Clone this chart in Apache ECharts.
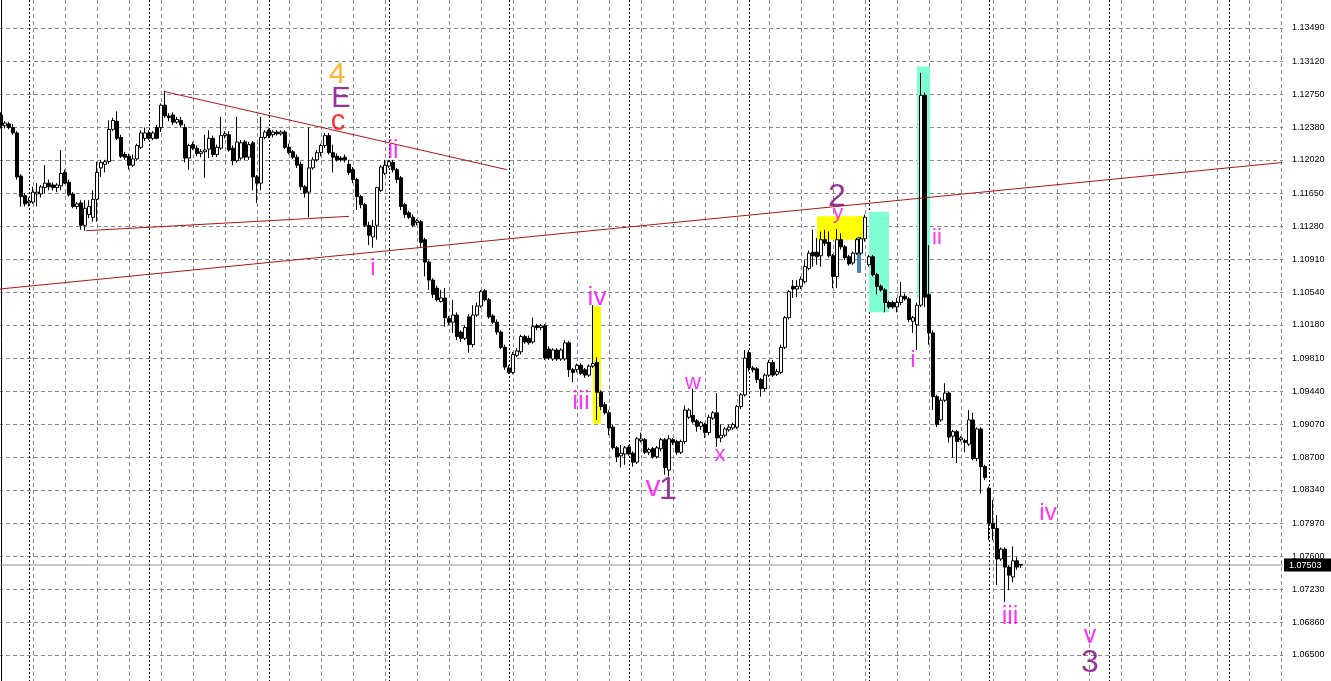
<!DOCTYPE html>
<html>
<head>
<meta charset="utf-8">
<script src="https://cdn.jsdelivr.net/npm/echarts@6.0.0/dist/echarts.min.js"></script>
<style>
html,body{margin:0;padding:0;background:#fff;}
#chart{width:1331px;height:681px;}
</style>
</head>
<body>
<div id="chart"></div>
<script>
// ---- H4 candles (bar index 0..255), prices ----
const opens = [
1.1252,1.1240,1.1242,1.1238,1.1232,1.1184,1.1162,1.1154,1.1155,1.1164,
1.1164,1.1171,1.1176,1.1174,1.1171,1.1173,1.1188,1.1177,1.1164,1.1150,
1.1154,1.1129,1.1141,1.1138,1.1158,1.1193,1.1197,1.1200,1.1236,1.1245,
1.1227,1.1208,1.1206,1.1196,1.1203,1.1216,1.1226,1.1232,1.1226,1.1238,
1.1238,1.1263,1.1251,1.1252,1.1244,1.1246,1.1238,1.1204,1.1219,1.1215,
1.1209,1.1211,1.1214,1.1226,1.1208,1.1215,1.1229,1.1230,1.1215,1.1201,
1.1204,1.1222,1.1205,1.1221,1.1183,1.1176,1.1227,1.1235,1.1230,1.1233,
1.1231,1.1233,1.1216,1.1211,1.1205,1.1197,1.1172,1.1166,1.1193,1.1202,
1.1210,1.1218,1.1229,1.1210,1.1206,1.1204,1.1205,1.1197,1.1191,1.1180,
1.1161,1.1152,1.1129,1.1116,1.1129,1.1168,1.1187,1.1195,1.1199,1.1191,
1.1182,1.1152,1.1143,1.1138,1.1132,1.1133,1.1113,1.1088,1.1068,1.1059,
1.1044,1.1048,1.1025,1.1021,1.1029,1.1010,1.1003,1.1027,1.0996,1.1029,
1.1039,1.1056,1.1046,1.1028,1.1021,1.1010,1.0993,1.0970,1.0965,1.0984,
1.0988,1.1005,1.1003,1.0999,1.1017,1.1015,1.1017,1.0991,1.0980,1.0990,
1.0980,1.0980,1.0998,1.0968,1.0968,1.0973,1.0968,1.0962,1.0972,1.0976,
1.0943,1.0929,1.0920,1.0904,1.0881,1.0872,1.0874,1.0882,1.0875,1.0865,
1.0889,1.0890,1.0876,1.0880,1.0871,1.0880,1.0890,1.0856,1.0890,1.0888,
1.0876,1.0888,1.0915,1.0917,1.0911,1.0905,1.0907,1.0898,1.0914,1.0920,
1.0892,1.0895,1.0901,1.0903,1.0904,1.0927,1.0940,1.0987,1.0970,1.0969,
1.0957,1.0947,1.0962,1.0976,1.0963,1.0965,1.0993,1.1026,1.1061,1.1058,
1.1061,1.1066,1.1081,1.1099,1.1099,1.1095,1.1113,1.1110,1.1095,1.1072,
1.1113,1.1105,1.1094,1.1087,1.1098,1.1098,1.1114,1.1085,1.1094,1.1074,
1.1061,1.1057,1.1043,1.1043,1.1038,1.1043,1.1050,1.1047,1.1022,1.1018,
1.1040,1.1274,1.1052,1.1009,1.0938,1.0912,1.0934,1.0942,1.0894,1.0899,
1.0890,1.0889,1.0885,1.0912,1.0869,1.0902,1.0860,1.0836,1.0797,1.0791,
1.0757,1.0768,1.0748,1.0737,1.0755,1.0751
];
const closes = [
1.1240,1.1243,1.1238,1.1232,1.1183,1.1161,1.1153,1.1156,1.1166,1.1166,
1.1172,1.1176,1.1172,1.1171,1.1174,1.1187,1.1176,1.1163,1.1150,1.1153,
1.1129,1.1148,1.1150,1.1158,1.1188,1.1199,1.1200,1.1236,1.1246,1.1226,
1.1206,1.1205,1.1196,1.1203,1.1218,1.1232,1.1232,1.1226,1.1232,1.1226,
1.1263,1.1251,1.1249,1.1244,1.1247,1.1241,1.1204,1.1218,1.1215,1.1209,
1.1211,1.1213,1.1226,1.1208,1.1216,1.1229,1.1231,1.1213,1.1201,1.1222,
1.1221,1.1205,1.1219,1.1183,1.1176,1.1227,1.1233,1.1229,1.1233,1.1231,
1.1233,1.1216,1.1210,1.1205,1.1196,1.1172,1.1165,1.1193,1.1202,1.1210,
1.1218,1.1229,1.1210,1.1205,1.1202,1.1202,1.1202,1.1188,1.1180,1.1161,
1.1152,1.1129,1.1118,1.1128,1.1171,1.1194,1.1196,1.1200,1.1191,1.1180,
1.1150,1.1141,1.1138,1.1129,1.1134,1.1110,1.1088,1.1068,1.1052,1.1046,
1.1048,1.1026,1.1021,1.1029,1.1005,1.1003,1.1015,1.0996,1.1029,1.1039,
1.1055,1.1046,1.1027,1.1021,1.1010,1.0993,1.0971,1.0965,1.0985,1.0989,
1.1005,1.0999,1.0998,1.1016,1.1015,1.1017,1.0981,1.0981,1.0990,1.0980,
1.0990,1.0998,1.0968,1.0965,1.0973,1.0964,1.0962,1.0972,1.0975,1.0943,
1.0927,1.0920,1.0903,1.0881,1.0871,1.0875,1.0881,1.0874,1.0865,1.0891,
1.0891,1.0876,1.0879,1.0871,1.0881,1.0890,1.0859,1.0891,1.0887,1.0876,
1.0888,1.0923,1.0923,1.0910,1.0905,1.0909,1.0898,1.0915,1.0920,1.0892,
1.0895,1.0902,1.0904,1.0907,1.0927,1.0940,1.0981,1.0970,1.0968,1.0957,
1.0947,1.0962,1.0976,1.0962,1.0966,1.0993,1.1026,1.1055,1.1058,1.1061,
1.1069,1.1083,1.1098,1.1095,1.1094,1.1113,1.1109,1.1095,1.1072,1.1113,
1.1105,1.1093,1.1086,1.1098,1.1113,1.1114,1.1138,1.1094,1.1074,1.1061,
1.1057,1.1043,1.1038,1.1038,1.1043,1.1050,1.1047,1.1024,1.1026,1.1040,
1.1274,1.1049,1.1009,1.0938,1.0907,1.0934,1.0942,1.0893,1.0899,1.0888,
1.0892,1.0887,1.0912,1.0869,1.0902,1.0860,1.0848,1.0797,1.0791,1.0757,
1.0768,1.0748,1.0739,1.0755,1.0748,1.07503
];
const lows = [
1.1237,1.1237,1.1236,1.1230,1.1180,1.1150,1.1150,1.1150,1.1153,1.1150,
1.1160,1.1165,1.1168,1.1168,1.1166,1.1168,1.1175,1.1161,1.1148,1.1147,
1.1124,1.1123,1.1137,1.1133,1.1133,1.1183,1.1188,1.1197,1.1234,1.1224,
1.1204,1.1202,1.1191,1.1194,1.1201,1.1214,1.1223,1.1224,1.1224,1.1225,
1.1233,1.1249,1.1245,1.1241,1.1242,1.1238,1.1199,1.1191,1.1213,1.1206,
1.1205,1.1182,1.1204,1.1205,1.1205,1.1213,1.1226,1.1211,1.1196,1.1199,
1.1202,1.1202,1.1202,1.1168,1.1154,1.1168,1.1225,1.1226,1.1227,1.1229,
1.1229,1.1214,1.1208,1.1203,1.1193,1.1168,1.1160,1.1138,1.1191,1.1200,
1.1206,1.1215,1.1208,1.1188,1.1200,1.1200,1.1199,1.1185,1.1176,1.1146,
1.1148,1.1127,1.1107,1.1104,1.1113,1.1166,1.1185,1.1193,1.1188,1.1176,
1.1146,1.1137,1.1136,1.1127,1.1129,1.1105,1.1072,1.1057,1.1048,1.1044,
1.1043,1.1016,1.1018,1.1009,1.1001,1.0999,1.1001,1.0987,1.0993,1.1027,
1.1037,1.1044,1.1025,1.1019,1.1007,1.0991,1.0968,1.0963,1.0963,1.0982,
1.0985,1.0997,1.0996,1.0997,1.1012,1.1012,1.0979,1.0979,1.0978,1.0978,
1.0978,1.0978,1.0960,1.0954,1.0965,1.0962,1.0959,1.0960,1.0970,1.0912,
1.0923,1.0918,1.0895,1.0879,1.0865,1.0859,1.0862,1.0872,1.0860,1.0863,
1.0887,1.0874,1.0873,1.0869,1.0869,1.0877,1.0851,1.0849,1.0884,1.0873,
1.0874,1.0885,1.0913,1.0908,1.0899,1.0901,1.0892,1.0895,1.0912,1.0882,
1.0887,1.0893,1.0899,1.0901,1.0902,1.0924,1.0938,1.0966,1.0965,1.0953,
1.0938,1.0944,1.0960,1.0960,1.0961,1.0963,1.0991,1.1024,1.1048,1.1049,
1.1058,1.1064,1.1079,1.1083,1.1085,1.1083,1.1106,1.1093,1.1059,1.1059,
1.1102,1.1090,1.1084,1.1085,1.1096,1.1096,1.1111,1.1083,1.1072,1.1052,
1.1055,1.1032,1.1036,1.1036,1.1032,1.1040,1.1045,1.1021,1.1009,1.0990,
1.1038,1.1038,1.0996,1.0923,1.0904,1.0910,1.0932,1.0887,1.0870,1.0864,
1.0888,1.0876,1.0883,1.0867,1.0866,1.0830,1.0845,1.0778,1.0778,1.0728,
1.0755,1.0709,1.0722,1.0731,1.0745,1.0747
];
const highs = [
1.1255,1.1245,1.1244,1.1242,1.1234,1.1186,1.1165,1.1160,1.1172,1.1176,
1.1174,1.1196,1.1180,1.1177,1.1176,1.1213,1.1191,1.1180,1.1166,1.1155,
1.1157,1.1157,1.1157,1.1168,1.1200,1.1202,1.1202,1.1246,1.1249,1.1256,
1.1230,1.1211,1.1209,1.1208,1.1220,1.1235,1.1238,1.1235,1.1234,1.1241,
1.1265,1.1279,1.1254,1.1255,1.1250,1.1250,1.1242,1.1220,1.1222,1.1218,
1.1214,1.1230,1.1235,1.1229,1.1219,1.1250,1.1234,1.1234,1.1218,1.1250,
1.1224,1.1224,1.1222,1.1223,1.1185,1.1250,1.1235,1.1237,1.1235,1.1235,
1.1235,1.1235,1.1220,1.1213,1.1208,1.1200,1.1174,1.1238,1.1205,1.1213,
1.1220,1.1232,1.1232,1.1219,1.1209,1.1206,1.1208,1.1202,1.1194,1.1182,
1.1163,1.1154,1.1133,1.1135,1.1172,1.1196,1.1202,1.1202,1.1202,1.1193,
1.1184,1.1154,1.1145,1.1141,1.1136,1.1135,1.1115,1.1090,1.1070,1.1062,
1.1057,1.1059,1.1028,1.1046,1.1032,1.1012,1.1017,1.1030,1.1040,1.1043,
1.1057,1.1058,1.1048,1.1030,1.1024,1.1012,1.0996,1.0973,1.0988,1.0992,
1.1007,1.1007,1.1006,1.1026,1.1019,1.1019,1.1019,1.0994,1.0992,1.0992,
1.0992,1.1001,1.1000,1.0970,1.0975,1.0975,1.0970,1.0974,1.1040,1.0982,
1.0945,1.0932,1.0923,1.0907,1.0883,1.0884,1.0883,1.0884,1.0877,1.0893,
1.0898,1.0892,1.0881,1.0882,1.0883,1.0892,1.0892,1.0895,1.0892,1.0890,
1.0890,1.0928,1.0925,1.0947,1.0913,1.0911,1.0909,1.0918,1.0922,1.0942,
1.0907,1.0904,1.0907,1.0909,1.0929,1.0942,1.0990,1.0990,1.0972,1.0971,
1.0959,1.0964,1.0979,1.0979,1.0969,1.0996,1.1028,1.1057,1.1068,1.1068,
1.1072,1.1090,1.1101,1.1124,1.1115,1.1122,1.1124,1.1122,1.1097,1.1125,
1.1120,1.1107,1.1096,1.1100,1.1115,1.1116,1.1141,1.1096,1.1096,1.1076,
1.1063,1.1059,1.1045,1.1045,1.1048,1.1066,1.1053,1.1049,1.1028,1.1043,
1.1299,1.1277,1.1107,1.1012,1.0940,1.0937,1.0953,1.0944,1.0901,1.0901,
1.0894,1.0891,1.0923,1.0920,1.0904,1.0904,1.0862,1.0838,1.0823,1.0806,
1.0770,1.0770,1.0750,1.0771,1.0759,1.0751
];

// ---- price scale ----
const tickLabels = ['1.06500','1.06860','1.07230','1.07600','1.07970','1.08340','1.08700',
  '1.09070','1.09440','1.09810','1.10180','1.10540','1.10910','1.11280','1.11650',
  '1.12020','1.12380','1.12750','1.13120','1.13490'];
const priceLow = 1.06210;   // bottom edge of the window
const priceHigh = 1.13802;  // top edge of the window
const lastPrice = 1.07503;
const barSlots = 321;       // bars that fit the window incl. empty right shift

// ---- drawn objects (bar index, price) ----
const trendFrom = [[41, 1.1278], [21.25, 1.1123], [-0.25, 1.1058]];
const trendTo   = [[126.5, 1.1191], [87, 1.1139], [320.25, 1.1199]];

const boxFrom = [[148, 1.1039], [204, 1.1139], [217, 1.1144], [229, 1.1306], [214, 1.1116]];
const boxTo   = [[150, 1.0908], [216.25, 1.1113], [222, 1.1032], [232.25, 1.1048], [215, 1.1076]];
const boxColors = ['#ffff00', '#ffff00', '#7fffd4', '#7fffd4', '#4682b4'];

const waveText  = ['4','E','c','ii','i','iv','iii','w','x','v','1','2','y','ii','i','iv','iii','v','3'];
const waveBar   = [84, 85, 84.25, 98, 93, 149, 145, 173, 179.75, 163, 166.75, 209, 209.25, 234, 228, 261.75, 252.25, 272.25, 272.25];
const wavePrice = [1.1297,1.1270,1.1244,1.1212,1.1081,1.1048,1.0932,1.0953,1.0873,1.0837,1.0834,1.1160,1.1142,1.1115,1.0979,1.0808,1.0692,1.0671,1.0641];
const MAG = '#ff00ff', PUR = '#800080', ORA = '#ffa500', RED = '#ff0000';
const waveColor = [ORA, PUR, RED, MAG, MAG, MAG, MAG, MAG, MAG, MAG, PUR, PUR, MAG, MAG, MAG, MAG, MAG, MAG, PUR];
const waveSize  = [30, 29, 29, 25, 24, 26, 26, 22, 22, 30, 32, 32, 21, 22, 24, 24, 25, 25, 32];

// ---- build ----
const categories = [];
for (let i = 0; i < barSlots; i++) categories.push(String(i));
const candles = opens.map((o, i) => [o, closes[i], lows[i], highs[i]]);
const tickValues = tickLabels.map(Number);
const gridBars = [];
for (let i = 0; i < barSlots; i += 8) gridBars.push(i);
const weekBars = [];
for (let i = 7; i < barSlots; i += 30) weekBars.push(i);

const FONT = '"Liberation Sans", Arial, sans-serif';
const GRID_GRAY = '#8c8c8c';
const TREND = '#b41414';

const series = [];
series.push({
  type: 'line', xAxisIndex: 1, yAxisIndex: 0, data: [], z: 1, silent: true,
  markArea: {
    silent: true,
    data: boxFrom.map((f, i) => [
      { coord: f, itemStyle: { color: boxColors[i], opacity: 1 } },
      { coord: boxTo[i] }
    ])
  }
});
// bid line with its price box on the axis
series.push({
  type: 'line', xAxisIndex: 1, yAxisIndex: 0, z: 1, silent: true, clip: false,
  data: [[-0.5, lastPrice], [barSlots - 0.5, lastPrice]], symbol: 'none',
  lineStyle: { color: '#8a9696', width: 1 },
  endLabel: {
    show: true, distance: 1,
    formatter: () => lastPrice.toFixed(5),
    color: '#ffffff', backgroundColor: '#000000', padding: [2, 10, 2, 5],
    fontSize: 9, fontFamily: FONT
  }
});
series.push({
  type: 'candlestick', xAxisIndex: 0, yAxisIndex: 0, data: candles, z: 2,
  barWidth: 3,
  itemStyle: { color: '#ffffff', color0: '#000000', borderColor: '#000000', borderColor0: '#000000', borderWidth: 1 }
});
trendFrom.forEach((f, i) => {
  series.push({
    type: 'line', xAxisIndex: 1, yAxisIndex: 0, z: 3, silent: true,
    data: [f, trendTo[i]], symbol: 'none',
    lineStyle: { color: TREND, width: 1 }
  });
});
series.push({
  type: 'scatter', xAxisIndex: 1, yAxisIndex: 0, z: 4, silent: true,
  symbolSize: 1, itemStyle: { color: 'rgba(0,0,0,0)' },
  data: waveText.map((t, i) => ({
    value: [waveBar[i], wavePrice[i]],
    label: { formatter: t, color: waveColor[i], fontSize: waveSize[i] }
  })),
  label: { show: true, position: 'inside', fontFamily: FONT, align: 'center', verticalAlign: 'middle' }
});

const option = {
  animation: false,
  backgroundColor: '#ffffff',
  grid: { left: -1, right: 48, top: 0, bottom: 0, containLabel: false, outerBoundsMode: 'none' },
  xAxis: [
    { type: 'category', data: categories, show: false, boundaryGap: true },
    { type: 'value', min: -0.5, max: barSlots - 0.5,
      axisLine: { show: false }, axisLabel: { show: false },
      axisTick: { show: false, customValues: gridBars },
      splitLine: { show: true, lineStyle: { color: GRID_GRAY, type: [4, 3], width: 1 } } },
    { type: 'value', min: -0.5, max: barSlots - 0.5,
      axisLine: { show: false }, axisLabel: { show: false },
      axisTick: { show: false, customValues: weekBars },
      splitLine: { show: true, lineStyle: { color: '#000000', type: [2, 2], width: 1 } } }
  ],
  yAxis: [{
    type: 'value', position: 'right', min: priceLow, max: priceHigh, scale: true,
    axisLine: { show: true, lineStyle: { color: '#000000', width: 1 } },
    axisTick: { show: false, customValues: tickValues },
    axisLabel: { customValues: tickValues, formatter: v => v.toFixed(5), fontSize: 9, fontFamily: FONT, color: '#000000', margin: 9 },
    splitLine: { show: true, lineStyle: { color: GRID_GRAY, type: [4, 3], width: 1 } }
  }],
  series: series
};

const chart = echarts.init(document.getElementById('chart'), null, { renderer: 'canvas' });
chart.setOption(option);
</script>
</body>
</html>
